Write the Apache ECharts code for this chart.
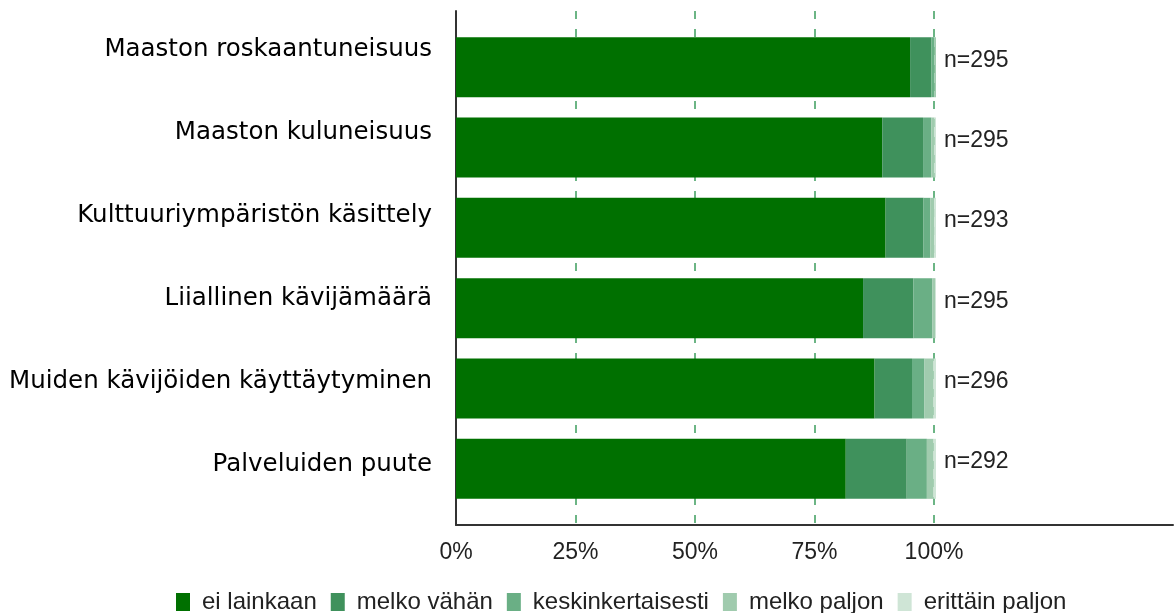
<!DOCTYPE html>
<html>
<head>
<meta charset="utf-8">
<script src="https://cdn.jsdelivr.net/npm/echarts@6/dist/echarts.min.js"></script>
<style>
html, body { margin: 0; padding: 0; background: #fff; }
#chart { width: 1176px; height: 613px; }
</style>
</head>
<body>
<div id="chart"></div>
<script>
var categories = ['Maaston roskaantuneisuus', 'Maaston kuluneisuus', 'Kulttuuriympäristön käsittely',
    'Liiallinen kävijämäärä', 'Muiden kävijöiden käyttäytyminen', 'Palveluiden puute'];
var nValues = [295, 295, 293, 295, 296, 292];
var seriesNames = ['ei lainkaan', 'melko vähän', 'keskinkertaisesti', 'melko paljon', 'erittäin paljon'];
var eiLainkaan = [94.6, 88.8, 89.5, 84.8, 87.2, 81.2];
var melkoVahan = [4.4, 8.5, 7.9, 10.5, 7.8, 12.7];
var keskinkertaisesti = [0.7, 1.7, 1.4, 3.9, 2.6, 4.2];
var melkoPaljon = [0.3, 0.7, 0.8, 0.6, 1.9, 1.4];
var erittainPaljon = [0.0, 0.3, 0.4, 0.2, 0.5, 0.5];
var colors = ['#007000', '#3f915c', '#6aaf85', '#a0cbae', '#cfe5d6'];

var chart = echarts.init(document.getElementById('chart'));

var values = [eiLainkaan, melkoVahan, keskinkertaisesti, melkoPaljon, erittainPaljon];
var series = [];
for (var i = 0; i < seriesNames.length; i++) {
    var s = {
        name: seriesNames[i],
        type: 'bar',
        stack: 'total',
        xAxisIndex: 1,
        yAxisIndex: 1,
        barWidth: 60,
        itemStyle: { color: colors[i] },
        data: values[i]
    };
    if (i == seriesNames.length - 1) {
        // n= labels at the end of each bar
        s.label = {
            show: true,
            position: 'right',
            distance: 8,
            offset: [0, -7],
            fontFamily: 'Liberation Sans',
            fontSize: 23,
            color: '#222',
            formatter: function (p) { return 'n=' + nValues[p.dataIndex]; }
        };
    }
    series.push(s);
}

var option = {
    animation: false,
    color: colors,
    legend: {
        data: seriesNames,
        left: 176,
        top: 590,
        padding: 0,
        icon: 'rect',
        itemWidth: 14,
        itemHeight: 18,
        itemGap: 14,
        textStyle: { fontFamily: 'Liberation Sans', fontSize: 24, lineHeight: 20, color: '#222', padding: [0, 0, 0, 7] }
    },
    grid: [
        { left: 456, right: 0, top: 11, bottom: 88 },      // axes + gridlines
        { left: 456, right: 0, top: 27, height: 482 },     // bars
        { left: 456, right: 0, top: 8, height: 498 }       // category labels
    ],
    xAxis: [
        {
            gridIndex: 0, type: 'value', min: 0, max: 150, interval: 25,
            axisLine: { show: true, lineStyle: { color: '#333', width: 2 } },
            axisTick: { show: false },
            axisLabel: {
                margin: 16, fontFamily: 'Liberation Sans', fontSize: 23, color: '#222',
                formatter: function (v) { return v <= 100 ? v + '%' : ''; }
            },
            splitLine: {
                show: true,
                lineStyle: {
                    color: ['transparent', '#3d9d5d', '#3d9d5d', '#3d9d5d', '#3d9d5d', 'transparent', 'transparent'],
                    type: [8, 10], width: 1.5
                }
            }
        },
        { gridIndex: 1, type: 'value', min: 0, max: 150, show: false },
        { gridIndex: 2, type: 'value', min: 0, max: 150, show: false }
    ],
    yAxis: [
        {
            gridIndex: 0, type: 'value', min: 0, max: 1,
            axisLine: { show: true, lineStyle: { color: '#333', width: 2 } },
            axisTick: { show: false }, axisLabel: { show: false }, splitLine: { show: false }
        },
        {
            gridIndex: 1, type: 'category', inverse: true, data: categories,
            axisLine: { show: false }, axisTick: { show: false }, axisLabel: { show: false }
        },
        {
            gridIndex: 2, type: 'category', inverse: true, data: categories,
            axisLine: { show: false }, axisTick: { show: false },
            axisLabel: { margin: 24, fontFamily: 'DejaVu Sans', fontSize: 24.5, color: '#000' }
        }
    ],
    series: series
};
chart.setOption(option);
</script>
</body>
</html>
